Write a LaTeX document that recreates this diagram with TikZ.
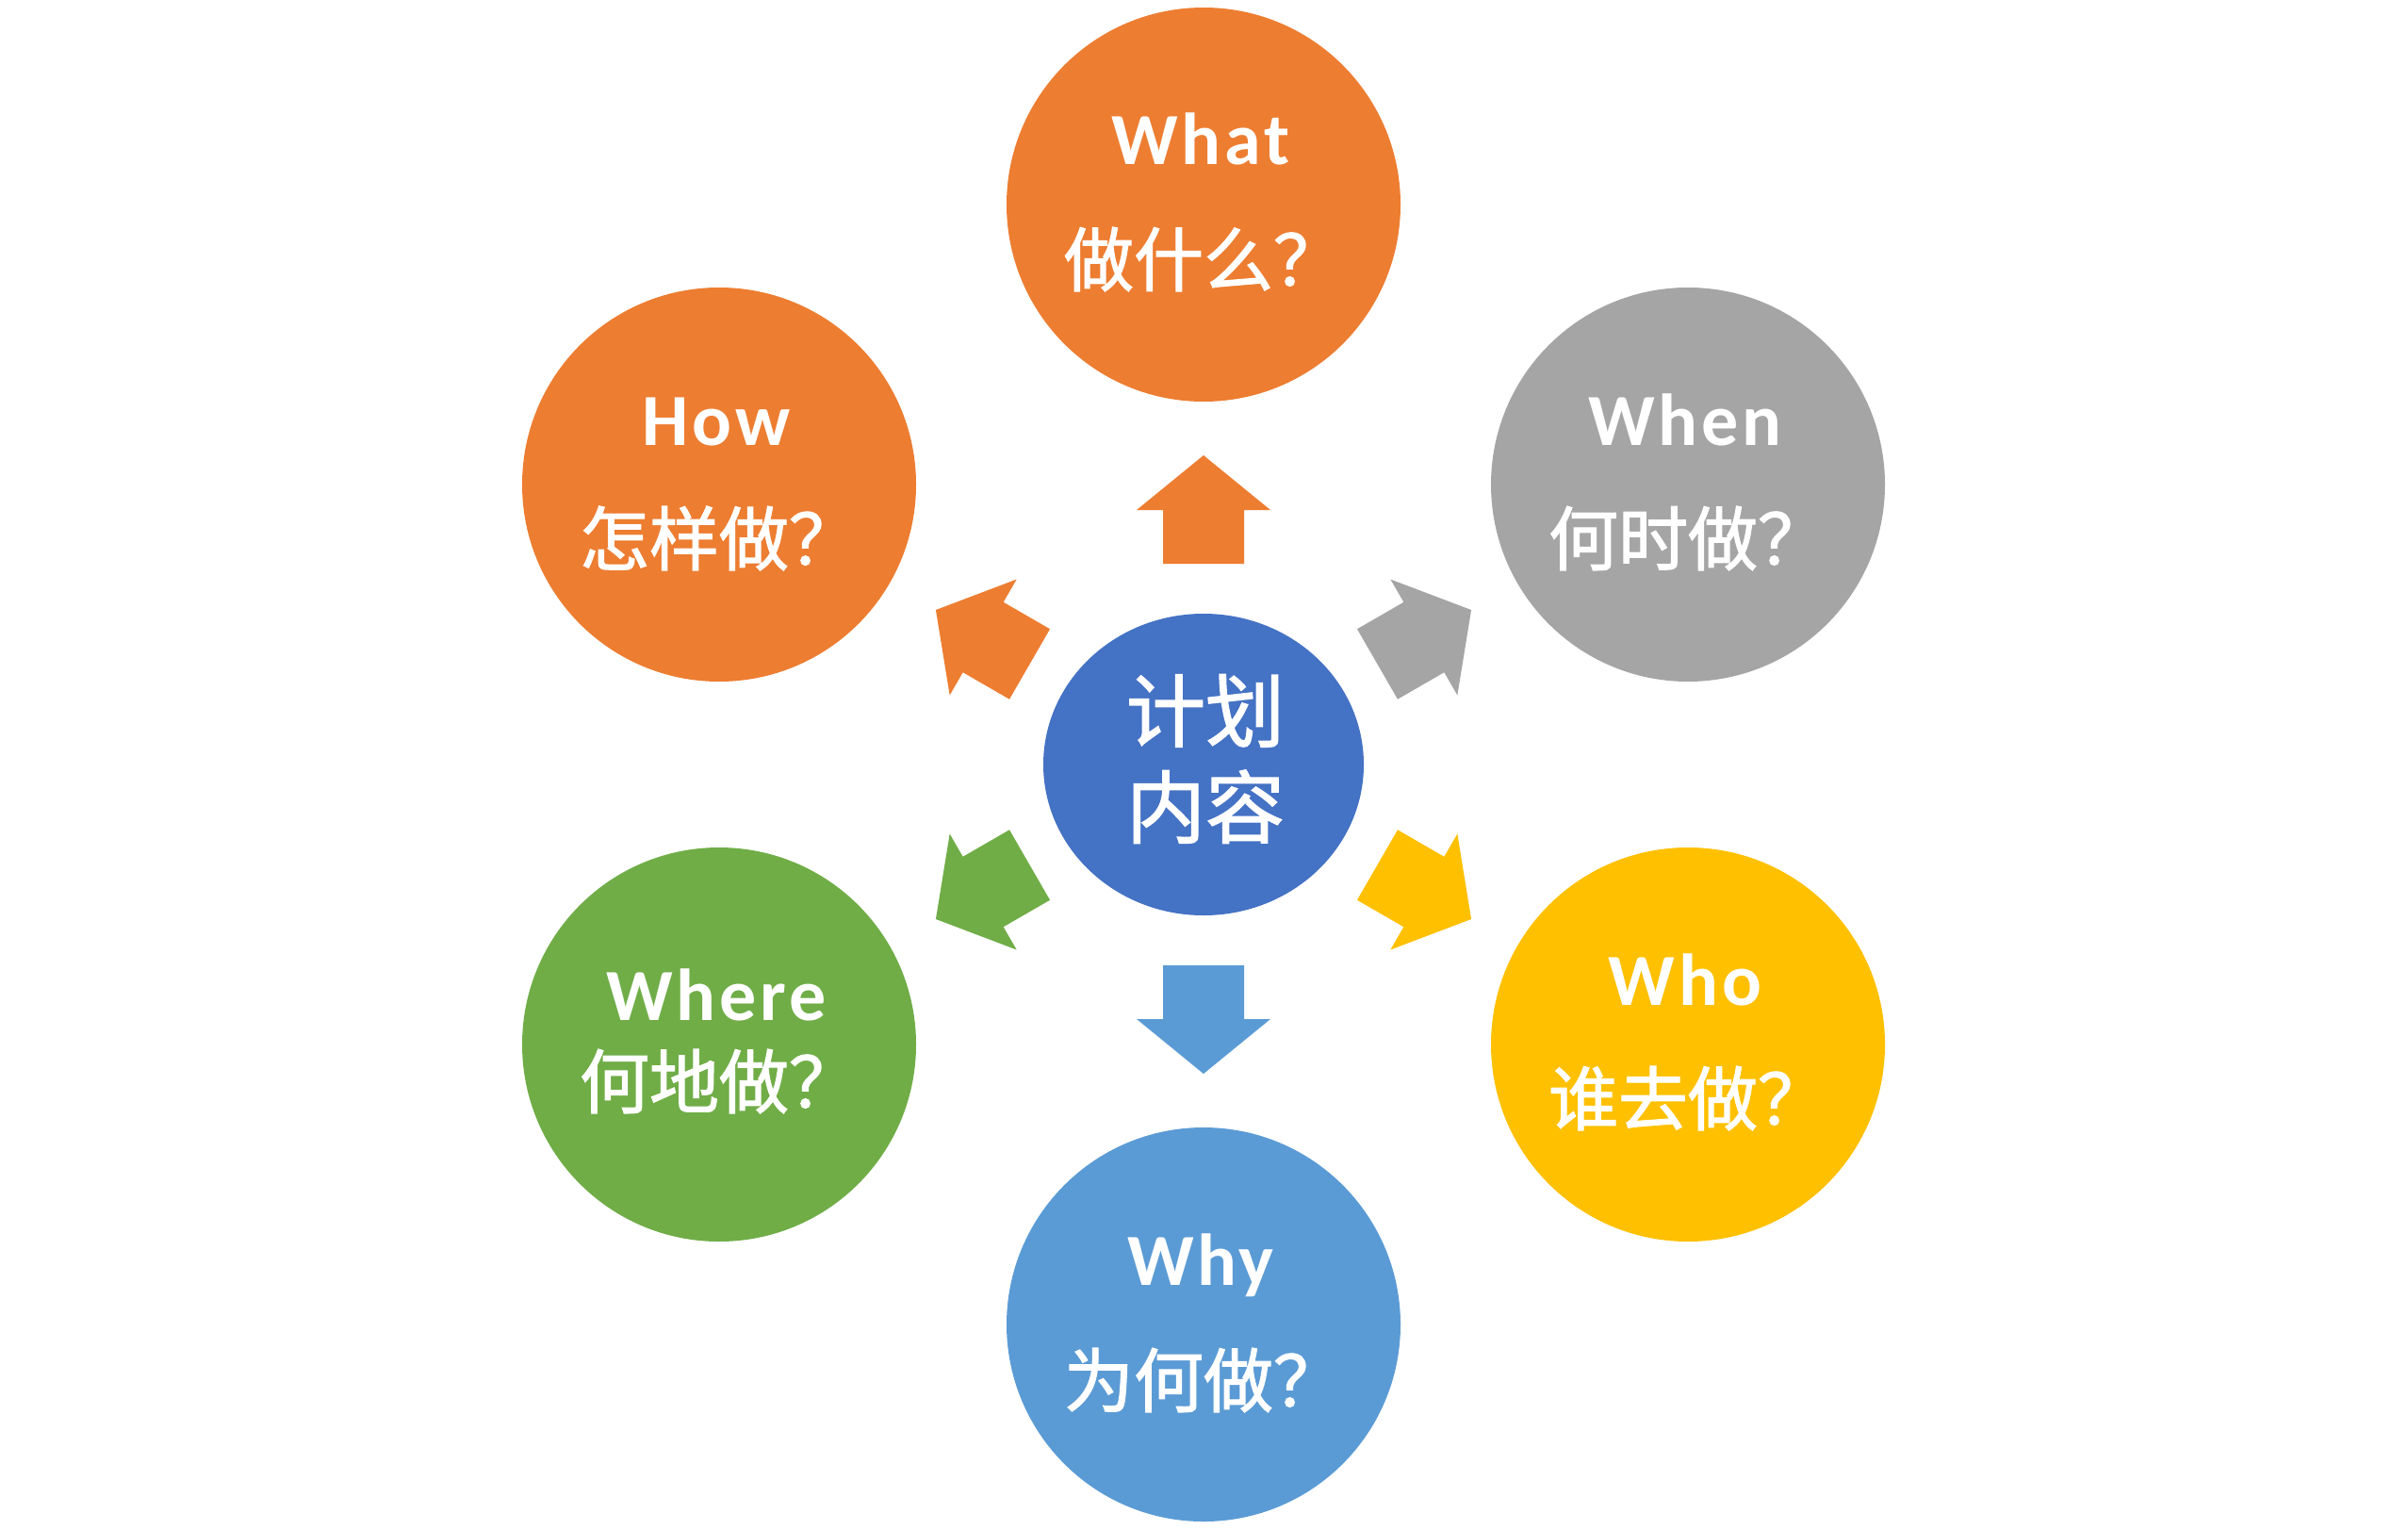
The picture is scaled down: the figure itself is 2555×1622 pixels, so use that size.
\documentclass[tikz,border=0pt]{standalone}
\usepackage{fontspec}
\newfontfamily\enfont[LetterSpace=5]{Carlito}
\newfontfamily\cjkfont[FakeBold=1.6]{Noto Sans CJK SC}
\usetikzlibrary{calc,shapes.geometric}
\definecolor{cOrange}{HTML}{ED7D31}
\definecolor{cGray}{HTML}{A5A5A5}
\definecolor{cGold}{HTML}{FFC000}
\definecolor{cLBlue}{HTML}{5B9BD5}
\definecolor{cGreen}{HTML}{70AD47}
\definecolor{cBlue}{HTML}{4472C4}
\newcommand\planarrow[2]{%
  \fill[#2, shift={(c)}, rotate=#1] (213,-43) -- (270,-43) -- (270,-71) -- (328,0) -- (270,71) -- (270,43) -- (213,43) -- cycle;}
\begin{document}
\begin{tikzpicture}[x=1pt,y=-1pt,
  ball/.style={circle, minimum size=418pt, inner sep=0pt, fill=#1},
  entext/.style={text=white, font=\enfont\bfseries\fontsize{78}{90}\selectfont, inner sep=0pt, anchor=base},
  cntext/.style={text=white, font=\cjkfont\fontsize{74}{88}\selectfont, inner sep=0pt},
  centertext/.style={text=white, font=\cjkfont\fontsize{84}{102}\selectfont, inner sep=0pt, align=center}]
\useasboundingbox (0,0) rectangle (2555,1622);
\node[ellipse, fill=cBlue, minimum width=340pt, minimum height=320pt, inner sep=0pt] (c) at (1277,811) {};
\node[centertext] (ct) at (1279,805) {计划\\内容};
% outer circles
\node[ball=cOrange] (what)  at (1277,217)  {};
\node[ball=cGray]   (when)  at (1791,514)  {};
\node[ball=cGold]   (who)   at (1791,1108) {};
\node[ball=cLBlue]  (why)   at (1277,1405) {};
\node[ball=cGreen]  (where) at (763,1108)  {};
\node[ball=cOrange] (how)   at (763,514)   {};
% arrows
\planarrow{90}{cOrange}
\planarrow{30}{cGray}
\planarrow{-30}{cGold}
\planarrow{-90}{cLBlue}
\planarrow{-150}{cGreen}
\planarrow{150}{cOrange}
% labels
\node[entext] (whatE)  at ($(what)+(-3,-43)$)  {What};
\node[cntext] (whatC)  at ($(what)+(0,58)$)   {做什么？};
\node[entext] (whenE)  at ($(when)+(-3,-42)$)  {When};
\node[cntext] (whenC)  at ($(when)+(0,57)$)   {何时做？};
\node[entext] (whoE)   at ($(who)+(-3,-42)$)   {Who};
\node[cntext] (whoC)   at ($(who)+(0,57)$)    {谁去做？};
\node[entext] (whyE)   at ($(why)+(-3,-42)$)   {Why};
\node[cntext] (whyC)   at ($(why)+(0,59)$)    {为何做？};
\node[entext] (whereE) at ($(where)+(-3,-26)$) {Where};
\node[cntext] (whereC) at ($(where)+(0,39)$)  {何地做？};
\node[entext] (howE)   at ($(how)+(-3,-42)$)   {How};
\node[cntext] (howC)   at ($(how)+(0,57)$)    {怎样做？};
\end{tikzpicture}
\end{document}
